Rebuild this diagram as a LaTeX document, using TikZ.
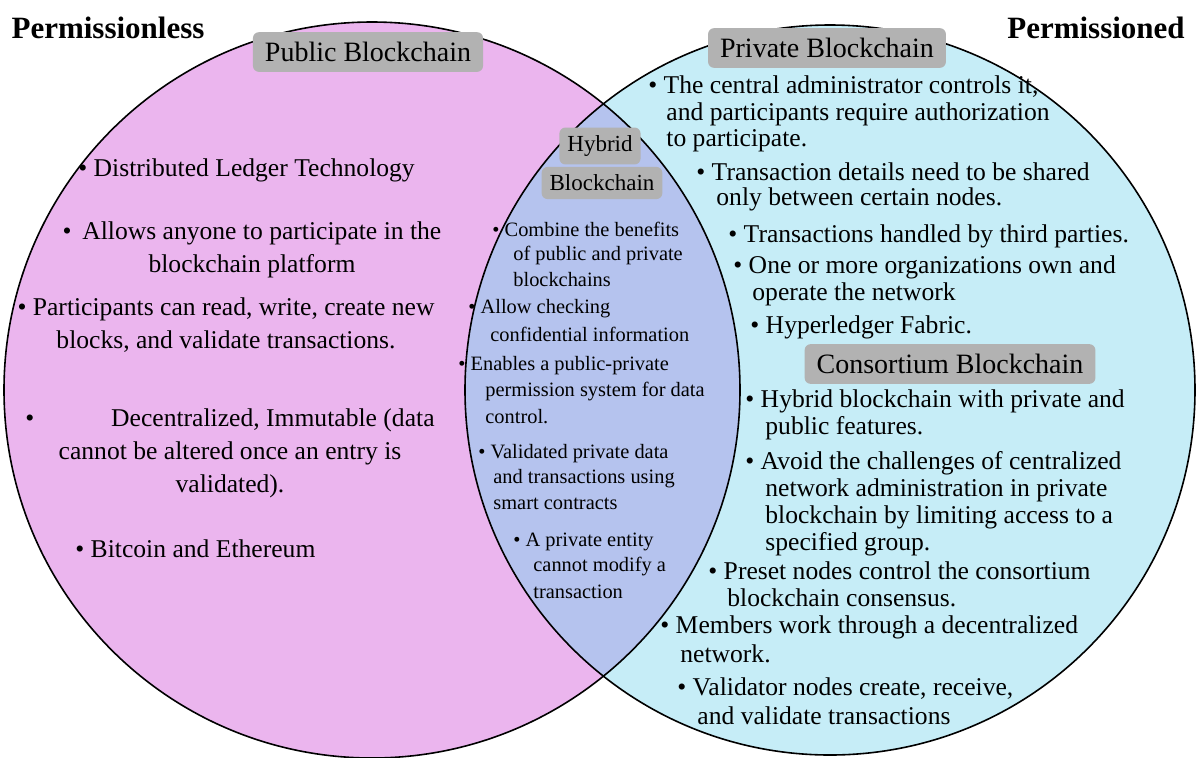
\documentclass[tikz,border=0pt]{standalone}
\usepackage{fontspec}
\setmainfont{Liberation Serif}
\begin{document}
\begin{tikzpicture}[x=0.5pt,y=-0.5pt,
  tx/.style={anchor=west,inner sep=0pt,font=\fontsize{12.8}{14}\selectfont},
  cx/.style={align=center,inner sep=0pt,font=\fontsize{12.8}{16.5}\selectfont},
  hx/.style={anchor=west,inner sep=0pt,font=\fontsize{10.2}{12}\selectfont},
  lbl/.style={fill=gray!60,rounded corners=3pt,inner xsep=6pt,inner ysep=5pt,font=\fontsize{14}{16}\selectfont},
  ttl/.style={font=\bfseries\fontsize{15.5}{17}\selectfont,inner sep=0pt}]
\useasboundingbox (0,0) rectangle (1200,757);
\fill[white] (0,0) rectangle (1200,757);
\definecolor{pk}{HTML}{EBB5EE}
\definecolor{bl}{HTML}{C6EDF7}
\definecolor{ov}{HTML}{B5C3EE}
\coordinate (cl) at (372,390);
\coordinate (cr) at (830,390);
\fill[pk] (cl) circle[radius=368];
\fill[bl] (cr) circle[radius=365];
\begin{scope}
 \clip (cl) circle[radius=368];
 \fill[ov] (cr) circle[radius=365];
\end{scope}
\draw[line width=0.8pt] (cl) circle[radius=368];
\draw[line width=0.8pt] (cr) circle[radius=365];
\node[ttl] (t1) at (108,28) {Permissionless};
\node[ttl] (t2) at (1096,28) {Permissioned};
\node[lbl] (pub) at (368,52) {Public Blockchain};
\node[lbl] (priv) at (827,48) {Private Blockchain};
\node[lbl] (cons) at (950,364) {Consortium Blockchain};
\node[lbl,inner sep=4pt,font=\fontsize{11.5}{13}\selectfont] (h1) at (600,146) {Hybrid};
\node[lbl,inner sep=4pt,font=\fontsize{11.5}{13}\selectfont] (h2) at (602,183) {Blockchain};
% left
\node[tx] (l1) at (78,170) {• Distributed Ledger Technology};
\node[cx] (l2) at (252,250) {• \,Allows anyone to participate in the\\blockchain platform};
\node[cx] (l3) at (226,325) {• Participants can read, write, create new\\blocks, and validate transactions.};
\node[cx] (l4) at (230,453) {•\qquad\quad Decentralized, Immutable (data\\cannot be altered once an entry is\\validated).};
\node[tx] (l5) at (75,549) {• Bitcoin and Ethereum};
% hybrid
\node[hx] at (492,229) {• Combine the benefits};
\node[hx] at (513,255) {of public and private};
\node[hx] at (513,280) {blockchains};
\node[hx] at (468,309) {• Allow checking};
\node[hx] at (490,334) {confidential information};
\node[hx] at (458,366) {• Enables a public-private};
\node[hx] at (485,392) {permission system for data};
\node[hx] at (485,417) {control.};
\node[hx] at (478,454) {• Validated private data};
\node[hx] at (493,479) {and transactions using};
\node[hx] at (493,504) {smart contracts};
\node[hx] at (513,542) {• A private entity};
\node[hx] at (533,567) {cannot modify a};
\node[hx] at (533,592) {transaction};
% right
\node[tx] at (648,87) {• The central administrator controls it,};
\node[tx] at (666,114) {and participants require authorization};
\node[tx] at (666,141) {to participate.};
\node[tx] at (696,172) {• Transaction details need to be shared};
\node[tx] at (716,199) {only between certain nodes.};
\node[tx] at (728,236) {• Transactions handled by third parties.};
\node[tx] at (733,267) {• One or more organizations own and};
\node[tx] at (752,294) {operate the network};
\node[tx] at (750,327) {• Hyperledger Fabric.};
\node[tx] at (745,401) {• Hybrid blockchain with private and};
\node[tx] at (765,428) {public features.};
\node[tx] at (745,463) {• Avoid the challenges of centralized};
\node[tx] at (765,490) {network administration in private};
\node[tx] at (765,517) {blockchain by limiting access to a};
\node[tx] at (765,544) {specified group.};
\node[tx] at (708,571) {• Preset nodes control the consortium};
\node[tx] at (727,598) {blockchain consensus.};
\node[tx] at (660,627) {• Members work through a decentralized};
\node[tx] at (680,654) {network.};
\node[tx] at (677,689) {• Validator nodes create, receive,};
\node[tx] at (697,716) {and validate transactions};
\end{tikzpicture}
\end{document}
